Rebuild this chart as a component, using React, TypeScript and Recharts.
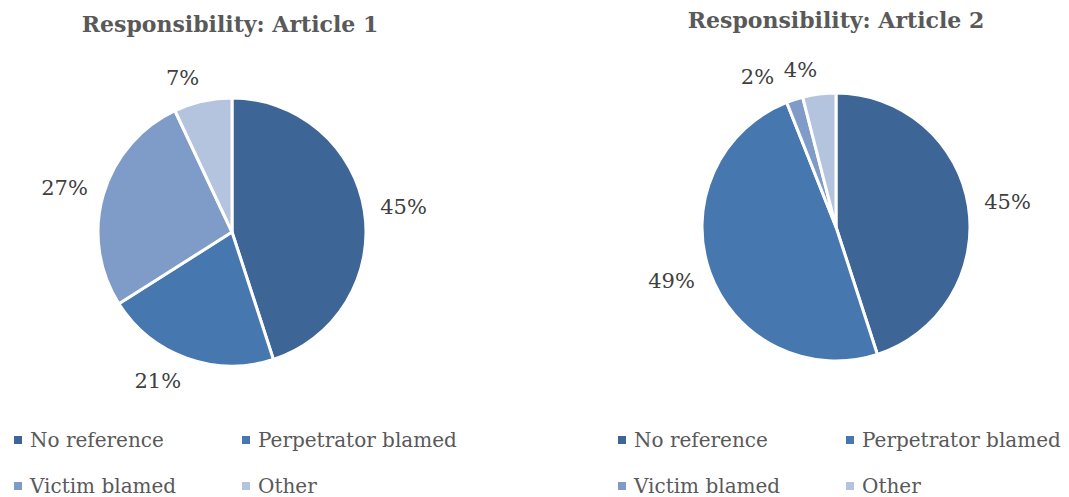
import React from "react";
import { PieChart, Pie, Cell, Legend } from "recharts";

const categories = ["No reference", "Perpetrator blamed", "Victim blamed", "Other"];
const article1Values = [45, 21, 27, 7];
const article2Values = [45, 49, 2, 4];
const colors = ["#3D6595", "#4677AF", "#7F9CC8", "#B4C3DE"];
const titles = ["Responsibility: Article 1", "Responsibility: Article 2"];

const FONT = "'DejaVu Serif', serif";
const RAD = Math.PI / 180;
const RADIUS = 134;
const GAP = 16;
const LABEL_SIZE = 21;

const toRows = (values: number[]) => categories.map((name, i) => ({ name, value: values[i] }));

// rough label boxes so neighbouring small-slice labels can be pushed apart, like Excel does
function labelShifts(values: number[]) {
  const total = values.reduce((a, b) => a + b, 0);
  let acc = 0;
  const boxes = values.map((v) => {
    const mid = 90 - ((acc + v / 2) / total) * 360;
    acc += v;
    const c = Math.cos(mid * RAD);
    const s = Math.sin(mid * RAD);
    const w = String(v).length * 13 + 20;
    const ax = (RADIUS + GAP) * c;
    const left = c < 0 ? ax - w : ax;
    const y = -(RADIUS + GAP) * s - 8 * s;
    return { left, right: left + w, y };
  });
  const shifts = values.map(() => 0);
  for (let i = boxes.length - 2; i >= 0; i--) {
    const a = boxes[i];
    const b = boxes[i + 1];
    const overlapX = a.right + shifts[i] > b.left + shifts[i + 1] - 6 && a.left < b.right;
    const overlapY = Math.abs(a.y - b.y) < 22;
    if (overlapX && overlapY) {
      shifts[i] = b.left + shifts[i + 1] - 10 - a.right;
    }
  }
  return shifts;
}

const makeLabel = (shifts: number[]) => (props: any) => {
  const { cx, cy, midAngle, outerRadius, value, index } = props;
  const c = Math.cos(midAngle * RAD);
  const s = Math.sin(midAngle * RAD);
  const r = outerRadius + GAP;
  const x = cx + r * c + (shifts[index] || 0);
  const y = cy - r * s - 8 * s;
  return (
    <text
      x={x}
      y={y}
      textAnchor={c < 0 ? "end" : "start"}
      dominantBaseline="central"
      fill="#404040"
      fontSize={LABEL_SIZE}
      fontFamily={FONT}
    >
      {value}%
    </text>
  );
};

function LegendGrid(props: any) {
  const items = [...(props.payload || [])].sort(
    (a: any, b: any) => categories.indexOf(a.value) - categories.indexOf(b.value)
  );
  return (
    <div style={{ display: "grid", gridTemplateColumns: "228px 228px", rowGap: 22, fontFamily: FONT }}>
      {items.map((it: any, i: number) => (
        <div key={i} style={{ display: "flex", alignItems: "center", height: 24, color: "#595959", fontSize: 20 }}>
          <span style={{ width: 8, height: 8, background: it.color, display: "inline-block", marginRight: 8 }} />
          <span>{it.value}</span>
        </div>
      ))}
    </div>
  );
}

function ArticlePie({ values, title, width, cx, cy, legendLeft, titleCenter, titleTop }: any) {
  const shifts = labelShifts(values);
  return (
    <div style={{ position: "relative", width, height: 497 }}>
      <div
        style={{
          position: "absolute",
          top: titleTop,
          left: titleCenter - 200,
          width: 400,
          textAlign: "center",
          fontFamily: FONT,
          fontWeight: "bold",
          fontSize: 22,
          color: "#595959",
        }}
      >
        {title}
      </div>
      <PieChart width={width} height={497} margin={{ top: 0, right: 0, bottom: 0, left: 0 }}>
        <Pie
          data={toRows(values)}
          dataKey="value"
          nameKey="name"
          cx={cx}
          cy={cy}
          outerRadius={RADIUS}
          startAngle={90}
          endAngle={-270}
          stroke="#FFFFFF"
          strokeWidth={3}
          label={makeLabel(shifts)}
          labelLine={false}
          isAnimationActive={false}
        >
          {values.map((_: number, i: number) => (
            <Cell key={i} fill={colors[i]} />
          ))}
        </Pie>
        <Legend
          content={LegendGrid}
          wrapperStyle={{ position: "absolute", left: legendLeft, top: 428, width: 470, height: 70 }}
        />
      </PieChart>
    </div>
  );
}

export default function App() {
  return (
    <div style={{ position: "absolute", left: 0, top: 0, width: 1069, height: 497, background: "#fff", display: "flex" }}>
      <ArticlePie values={article1Values} title={titles[0]} width={580} cx={232} cy={232} legendLeft={14} titleCenter={230} titleTop={11} />
      <ArticlePie values={article2Values} title={titles[1]} width={489} cx={256} cy={227} legendLeft={38} titleCenter={256} titleTop={7} />
    </div>
  );
}
